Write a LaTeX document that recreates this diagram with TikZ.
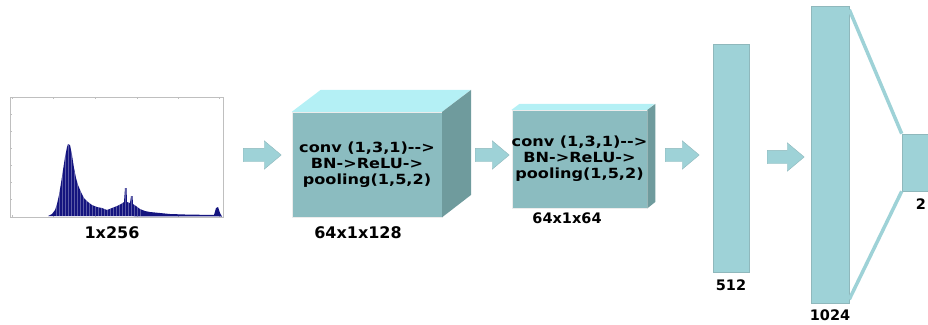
\documentclass[tikz,border=0pt]{standalone}
\usepackage{fontspec}
\setmainfont{DejaVu Sans}
\newfontfamily\convfont[FakeStretch=1.15]{DejaVu Sans}
\usepackage{tikz}
\usepackage{xcolor}
\usetikzlibrary{positioning,shapes,arrows.meta}

\definecolor{fcfill}{HTML}{9ED2D7}
\definecolor{fcline}{HTML}{8FB8BC}
\definecolor{cubefront}{HTML}{8BBCC0}
\definecolor{cubetop}{HTML}{B4F0F5}
\definecolor{cubeside}{HTML}{6F9B9D}
\definecolor{histblue}{HTML}{14147F}

\begin{document}
\begin{tikzpicture}[x=1pt,y=-1pt]
\useasboundingbox (0,0) rectangle (928,324);
\tikzstyle{fcbox}=[draw=fcline,fill=fcfill,inner sep=0pt,line width=0.6pt]
\tikzstyle{cubebox}=[draw=white!85!gray,fill=cubefront,inner sep=0pt,align=center,
  font=\convfont\bfseries\fontsize{14}{16}\selectfont]
\tikzstyle{blockarrow}=[shape=single arrow,fill=fcfill,draw=fcline,line width=0.4pt,
  inner sep=6.5pt,single arrow head extend=7.5pt,single arrow tip angle=80,
  minimum height=36pt,anchor=tail]
\tikzstyle{dimlabel}=[font=\bfseries\fontsize{14.5}{17}\selectfont,inner sep=0pt]

% input histogram
\draw[gray!50,line width=0.5pt] (10,97) rectangle (223,217);
\foreach \y in {97,114,131,148,165,182,199} \draw[gray!50] (10,\y) -- (12,\y);
\foreach \x in {12,53,95,137,178,219} {
  \draw[gray!50] (\x,97) -- (\x,99);
  \draw[gray!50] (\x,217) -- (\x,215);
}
\begin{scope}
\clip (48,216) -- (52,214) -- (55,210) -- (57,204) -- (59,195) -- (61,183)
  -- (63,170) -- (65,157) -- (67,147) -- (68,144) -- (70,145) -- (72,155)
  -- (74,168) -- (76,178) -- (78,185) -- (81,192) -- (84,198) -- (88,202)
  -- (92,205) -- (97,207) -- (102,208) -- (107,210) -- (112,208) -- (117,206)
  -- (121,204) -- (124,202) -- (125,188) -- (126.5,188) -- (127,202) -- (130,203)
  -- (131,196) -- (132.5,196) -- (133,204) -- (136,206) -- (140,209) -- (145,211)
  -- (150,212) -- (160,213) -- (170,214) -- (185,214.5) -- (214,215) -- (216,208)
  -- (218,207) -- (220,213) -- (222,216.5) -- cycle;
\fill[histblue] (40,140) rectangle (225,218);
\foreach \x in {56,59,...,140} \draw[white,opacity=0.3,line width=0.7pt] (\x,218) -- (\x,140);
\end{scope}
\node[dimlabel,font=\bfseries\fontsize{16}{19}\selectfont] (in) at (112,233) {1x256};

% conv block 1
\node[cubebox,minimum width=150pt,minimum height=105pt] (conv1) at (367,164.5)
  {conv (1,3,1)-->\\BN->ReLU->\\pooling(1,5,2)};
\fill[cubetop] (conv1.north west) -- ++(29,-22) -- ++(150,0) -- (conv1.north east) -- cycle;
\fill[cubeside] (conv1.north east) -- ++(29,-22) -- ++(0,105) -- (conv1.south east) -- cycle;
\node[dimlabel,font=\bfseries\fontsize{16}{19}\selectfont] (d1) at (358,233) {64x1x128};

% conv block 2
\node[cubebox,minimum width=135pt,minimum height=98pt] (conv2) at (579.5,159)
  {conv (1,3,1)-->\\BN->ReLU->\\pooling(1,5,2)};
\fill[cubetop] (conv2.north west) -- ++(8,-6) -- ++(135,0) -- (conv2.north east) -- cycle;
\fill[cubeside] (conv2.north east) -- ++(8,-6) -- ++(0,98) -- (conv2.south east) -- cycle;
\node[dimlabel] (d2) at (567,218) {64x1x64};

% fully connected layers
\node[fcbox,minimum width=36pt,minimum height=228pt] (fc512) at (731,158) {};
\node[dimlabel] (d3) at (731,285) {512};
\node[fcbox,minimum width=38pt,minimum height=297pt] (fc1024) at (830,154.5) {};
\node[dimlabel] (d4) at (830,315) {1024};
\node[fcbox,minimum width=27pt,minimum height=57pt] (out) at (915.5,162.5) {};
\node[dimlabel] (d5) at (921,204) {2};
\draw[fcfill,line width=3.5pt] ([yshift=-4pt]fc1024.north east) -- (out.north west);
\draw[fcfill,line width=3.5pt] ([yshift=4pt]fc1024.south east) -- (out.south west);

% block arrows
\node[blockarrow,minimum height=38pt] (a1) at (243,155) {};
\node[blockarrow,minimum height=34pt] (a2) at (475,155) {};
\node[blockarrow,minimum height=34pt] (a3) at (665,155) {};
\node[blockarrow,minimum height=37pt] (a4) at (767,157) {};
\end{tikzpicture}
\end{document}
